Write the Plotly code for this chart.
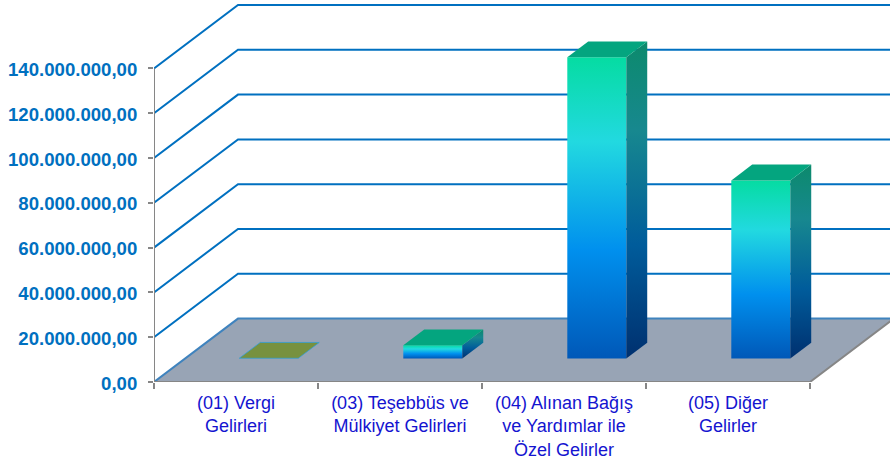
import plotly.graph_objects as go

categories = ["(01) Vergi<br>Gelirleri", "(03) Teşebbüs ve<br>Mülkiyet Gelirleri",
              "(04) Alınan Bağış<br>ve Yardımlar ile<br>Özel Gelirler", "(05) Diğer<br>Gelirler"]
values = [100000, 5900000, 134500000, 79500000]
y_ticks = [0, 20000000, 40000000, 60000000, 80000000, 100000000, 120000000, 140000000]
y_labels = ["0,00", "20.000.000,00", "40.000.000,00", "60.000.000,00", "80.000.000,00",
            "100.000.000,00", "120.000.000,00", "140.000.000,00"]

W, H = 890, 461
L, BOTTOM = 154, 78.5
CELL = 164.0
UNIT = 44.86 / 20000000.0       # pixels per value unit
DX = 84.0 / CELL                # wall depth in category units
DY = 63.5 / UNIT                # wall depth in value units
BAR_W = 59.0 / CELL
D0, D1 = 0.371, 0.62            # bar's depth span
BAR_X = 0.51

front_scale = [[0, "#0058B8"], [0.36, "#0090EE"], [0.72, "#22D9E0"], [1, "#05DCA2"]]
side_scale = [[0, "#00306F"], [0.36, "#005C9B"], [0.72, "#17888F"], [1, "#0C8A6C"]]
top_colors = ["#77913F", "#04A57F", "#04A57F", "#04A57F"]


def P(x, v, d):
    return x + d * DX, v + d * DY


def poly(points, **kw):
    xs, ys = zip(*(points + points[:1]))
    return go.Scatter(x=list(xs), y=list(ys), mode="lines", fill="toself", hoverinfo="skip",
                      showlegend=False, **kw)


fig = go.Figure()
GRID = "#0070C0"
# floor
fig.add_trace(poly([P(0, 0, 0), P(4, 0, 0), P(4, 0, 1), P(0, 0, 1)],
                   fillcolor="#98A4B5", line=dict(width=0)))
# walls
for v in y_ticks:
    pts = [P(0, v, 0), P(0, v, 1), P(4, v, 1)]
    fig.add_trace(go.Scatter(x=[p[0] for p in pts], y=[p[1] for p in pts], mode="lines",
                             line=dict(color=GRID if v else "#3F83BE", width=2),
                             hoverinfo="skip", showlegend=False, cliponaxis=False))
# floor front/right edges and value axis
for pts in ([P(0, 0, 0), P(4, 0, 0), P(4, 0, 1)], [P(0, 0, 0), P(0, y_ticks[-1], 0)]):
    fig.add_trace(go.Scatter(x=[p[0] for p in pts], y=[p[1] for p in pts], mode="lines",
                             line=dict(color="#868686", width=2), hoverinfo="skip",
                             showlegend=False, cliponaxis=False))
# bars
for i, val in enumerate(values):
    cx = i + BAR_X
    x0, x1 = cx - BAR_W / 2, cx + BAR_W / 2
    # front face
    fig.add_trace(poly([P(x0, 0, D0), P(x1, 0, D0), P(x1, val, D0), P(x0, val, D0)],
                       line=dict(width=0),
                       fillgradient=dict(type="vertical", colorscale=front_scale)))
    # side face
    fig.add_trace(poly([P(x1, 0, D0), P(x1, 0, D1), P(x1, val, D1), P(x1, val, D0)],
                       line=dict(width=0),
                       fillgradient=dict(type="vertical", colorscale=side_scale)))
    # top face
    fig.add_trace(poly([P(x0, val, D0), P(x1, val, D0), P(x1, val, D1), P(x0, val, D1)],
                       line=dict(width=0.75 if i == 0 else 0, color="#2E9FD8"),
                       fillcolor=top_colors[i]))

fig.update_layout(
    width=W, height=H, margin=dict(l=L, r=0, t=0, b=BOTTOM, autoexpand=False),
    paper_bgcolor="white", plot_bgcolor="white", showlegend=False,
    xaxis=dict(range=[0, (W - L) / CELL], showgrid=False, zeroline=False, showline=False,
               tickmode="array", tickvals=[i + 0.5 for i in range(len(categories))],
               ticktext=categories, ticks="", ticklabelstandoff=8, tickangle=0,
               tickfont=dict(family="Liberation Sans", size=18, color="#1414D0"),
               minor=dict(tickmode="array", tickvals=list(range(5)), ticks="outside",
                          ticklen=6, tickcolor="#868686", tickwidth=2)),
    yaxis=dict(range=[0, (H - BOTTOM) / UNIT], showgrid=False, zeroline=False, showline=False,
               tickmode="array", tickvals=y_ticks, ticktext=y_labels, ticks="outside",
               ticklen=5, tickcolor="#868686", tickwidth=2, ticklabelstandoff=7, ticklabelshift=1,
               tickfont=dict(family="Liberation Sans", size=18.6, color="#0070C0", weight="bold")),
)
fig.write_html("out.html", config=dict(displayModeBar=False),
               post_script="document.body.style.margin='0';document.documentElement.style.overflow='hidden';")
